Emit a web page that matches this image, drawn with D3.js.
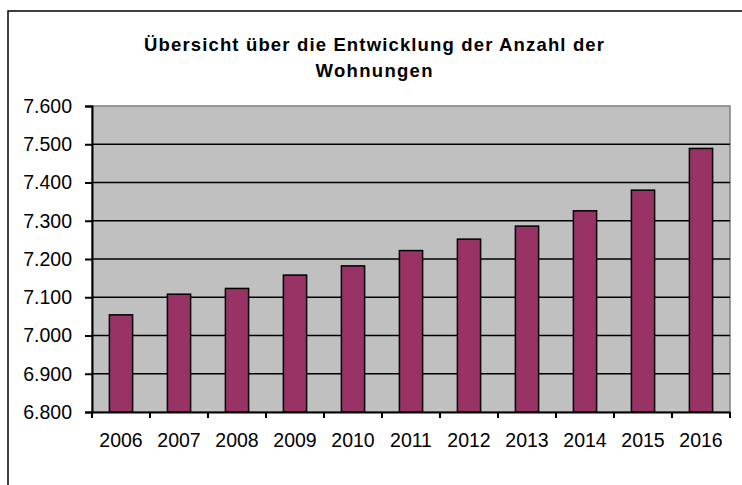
<!DOCTYPE html>
<html>
<head>
<meta charset="utf-8">
<script src="https://cdn.jsdelivr.net/npm/d3@7"></script>
<style>
  body { margin: 0; background: #fff; }
  text { font-family: "Liberation Sans", Arial, sans-serif; }
</style>
</head>
<body>
<svg id="chart" width="742" height="485"></svg>
<script>
// data (Anzahl Wohnungen, in Tausend)
var years = ['2006','2007','2008','2009','2010','2011','2012','2013','2014','2015','2016'];
var wohnungen = [7054, 7108, 7123, 7158, 7182, 7222, 7252, 7286, 7326, 7380, 7489];
var yTicks = [6800, 6900, 7000, 7100, 7200, 7300, 7400, 7500, 7600];
var titleLines = ['Übersicht über die Entwicklung der Anzahl der', 'Wohnungen'];

var svg = d3.select('#chart');
// plot box (not "top" - that one belongs to window)
var pLeft = 92, pRight = 730, pTop = 106, pBottom = 412;

// outer frame
svg.append('rect')
  .attr('x', 8).attr('y', 11)
  .attr('width', 800).attr('height', 600)
  .attr('fill', '#fff')
  .attr('stroke', '#000')
  .attr('stroke-width', 1.5);

var x = d3.scaleBand()
  .domain(years)
  .range([pLeft, pRight])
  .paddingInner(0.6)
  .paddingOuter(0.3);

var y = d3.scaleLinear()
  .domain([6800, 7600])
  .range([pBottom, pTop]);

var de = d3.formatLocale({decimal: ',', thousands: '.', grouping: [3], currency: ['', '€']});
var fmt = de.format(',');

// plot area
svg.append('rect')
  .attr('x', pLeft).attr('y', pTop)
  .attr('width', pRight - pLeft).attr('height', pBottom - pTop)
  .attr('fill', '#c0c0c0')
  .attr('stroke', '#808080')
  .attr('stroke-width', 1.5);

// gridlines
svg.append('g')
  .selectAll('line')
  .data(yTicks.slice(1, -1))
  .join('line')
  .attr('x1', pLeft).attr('x2', pRight)
  .attr('y1', function(d) { return y(d); })
  .attr('y2', function(d) { return y(d); })
  .attr('stroke', '#000')
  .attr('stroke-width', 1.5);

// bars
svg.append('g')
  .selectAll('rect')
  .data(wohnungen)
  .join('rect')
  .attr('x', function(d, i) { return x(years[i]); })
  .attr('y', function(d) { return y(d); })
  .attr('width', x.bandwidth())
  .attr('height', function(d) { return pBottom - y(d); })
  .attr('fill', '#993366')
  .attr('stroke', '#000')
  .attr('stroke-width', 1.5);

// y axis
var yAxis = svg.append('g')
  .attr('transform', 'translate(' + pLeft + ',0)')
  .call(d3.axisLeft(y).tickValues(yTicks).tickFormat(fmt).tickSize(7).tickPadding(13));
yAxis.select('.domain').attr('stroke', '#000').attr('stroke-width', 2);
yAxis.selectAll('.tick line').attr('stroke', '#000').attr('stroke-width', 2);
yAxis.selectAll('text')
  .attr('font-size', '19.5px')
  .attr('fill', '#000')
  .style('font-family', '"Liberation Sans", Arial, sans-serif');

// x axis, ticks between the categories
var xAxis = svg.append('g')
  .attr('transform', 'translate(0,' + pBottom + ')')
  .call(d3.axisBottom(x).tickSize(0).tickPadding(21));
xAxis.select('.domain').attr('stroke', '#000').attr('stroke-width', 2);
xAxis.selectAll('text')
  .attr('font-size', '19.5px')
  .attr('fill', '#000')
  .style('font-family', '"Liberation Sans", Arial, sans-serif');

var bounds = years.map(function(d) { return x(d) - x.step() * x.paddingOuter(); });
bounds.push(pRight);
xAxis.selectAll('line.sep')
  .data(bounds)
  .join('line')
  .attr('class', 'sep')
  .attr('x1', function(d) { return d; })
  .attr('x2', function(d) { return d; })
  .attr('y1', 0).attr('y2', 6)
  .attr('stroke', '#000')
  .attr('stroke-width', 2);

// title (Excel spreads the letters, so stretch to the measured widths)
var titleWidths = [460, 117];
svg.append('g')
  .selectAll('text')
  .data(titleLines)
  .join('text')
  .attr('x', 374)
  .attr('y', function(d, i) { return 51 + i * 26; })
  .attr('text-anchor', 'middle')
  .attr('font-size', '18.5px')
  .attr('font-weight', 'bold')
  .attr('textLength', function(d, i) { return titleWidths[i]; })
  .attr('lengthAdjust', 'spacing')
  .text(function(d) { return d; });
</script>
</body>
</html>
